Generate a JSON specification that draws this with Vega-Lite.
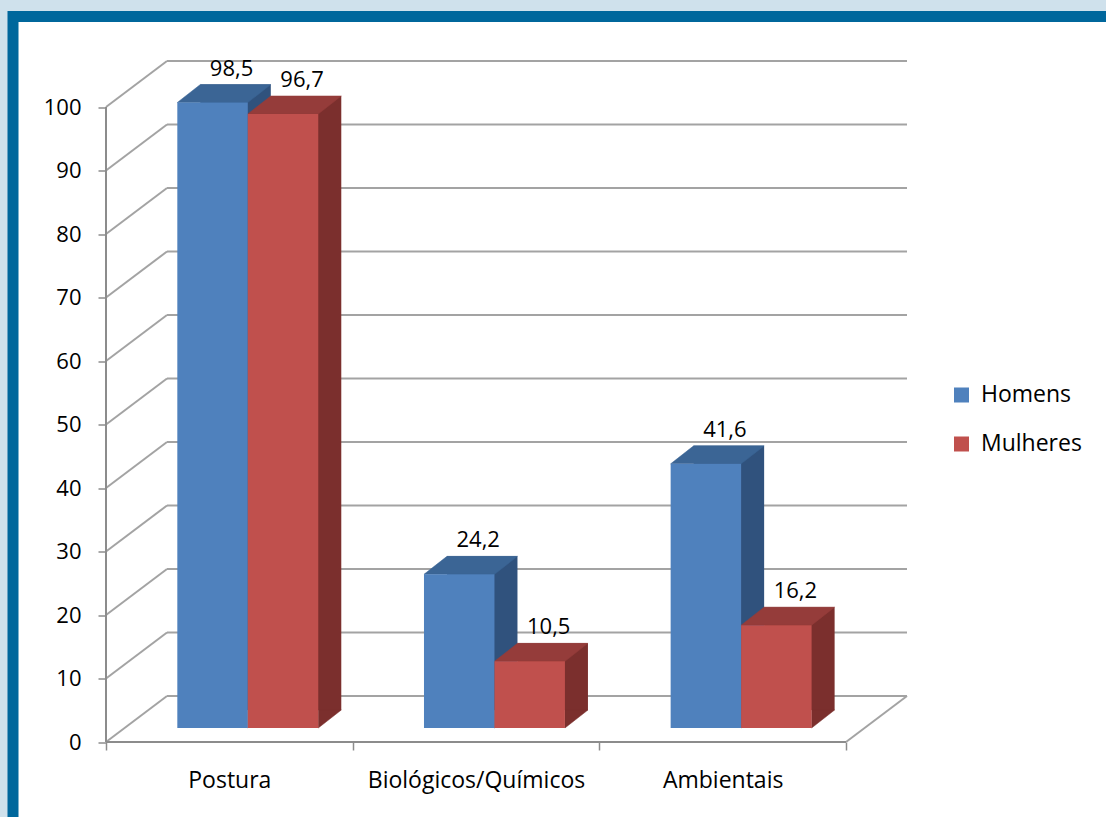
{
  "$schema": "https://vega.github.io/schema/vega-lite/v6.json",
  "autosize": {"type": "none"},
  "padding": {"left": 13, "top": 16.5, "right": 0, "bottom": 0},
  "width": 1107,
  "height": 813.5,
  "background": "#cfe1ec",
  "config": {
    "view": {"fill": "white", "stroke": "#00679c", "strokeWidth": 11},
    "locale": {"number": {"decimal": ",", "thousands": ".", "grouping": [3], "currency": ["R$", ""]}},
    "font": "Open Sans"
  },
  "data": {
    "values": [
      {"categoria": "Postura", "sexo": "Homens", "valor": 98.5},
      {"categoria": "Postura", "sexo": "Mulheres", "valor": 96.7},
      {"categoria": "Biológicos/Químicos", "sexo": "Homens", "valor": 24.2},
      {"categoria": "Biológicos/Químicos", "sexo": "Mulheres", "valor": 10.5},
      {"categoria": "Ambientais", "sexo": "Homens", "valor": 41.6},
      {"categoria": "Ambientais", "sexo": "Mulheres", "valor": 16.2}
    ]
  },
  "layer": [
    {
      "description": "back wall gridlines",
      "data": {"values": [{"v": 0}, {"v": 10}, {"v": 20}, {"v": 30}, {"v": 40}, {"v": 50}, {"v": 60}, {"v": 70}, {"v": 80}, {"v": 90}, {"v": 100}]},
      "mark": {"type": "rule", "color": "#a3a3a3", "strokeWidth": 2, "xOffset": 61, "x2Offset": 61, "yOffset": -46},
      "encoding": {
        "x": {"datum": "Postura", "type": "nominal", "bandPosition": 0},
        "x2": {"datum": "Ambientais", "bandPosition": 1},
        "y": {"field": "v", "type": "quantitative", "title": null}
      }
    },
    {
      "description": "side wall diagonals",
      "data": {"values": [{"v": 0}, {"v": 10}, {"v": 20}, {"v": 30}, {"v": 40}, {"v": 50}, {"v": 60}, {"v": 70}, {"v": 80}, {"v": 90}, {"v": 100}]},
      "mark": {"type": "rule", "color": "#a3a3a3", "strokeWidth": 2, "x2Offset": 61, "y2Offset": -46},
      "encoding": {
        "x": {"datum": "Postura", "type": "nominal", "bandPosition": 0},
        "x2": {"datum": "Postura", "bandPosition": 0},
        "y": {"field": "v", "type": "quantitative", "title": null},
        "y2": {"field": "v"}
      }
    },
    {
      "description": "floor right edge",
      "data": {"values": [{}]},
      "mark": {"type": "rule", "color": "#a3a3a3", "strokeWidth": 2, "x2Offset": 61, "y2Offset": -46},
      "encoding": {
        "x": {"datum": "Ambientais", "type": "nominal", "bandPosition": 1},
        "x2": {"datum": "Ambientais", "bandPosition": 1},
        "y": {"datum": 0, "type": "quantitative"},
        "y2": {"datum": 0}
      }
    },
    {
      "description": "floor front edge",
      "data": {"values": [{}]},
      "mark": {"type": "rule", "color": "#8c8c8c", "strokeWidth": 2},
      "encoding": {
        "x": {"datum": "Postura", "type": "nominal", "bandPosition": 0},
        "x2": {"datum": "Ambientais", "bandPosition": 1},
        "y": {"datum": 0, "type": "quantitative"}
      }
    },
    {
      "description": "value axis line",
      "data": {"values": [{}]},
      "mark": {"type": "rule", "color": "#8c8c8c", "strokeWidth": 2},
      "encoding": {
        "x": {"datum": "Postura", "type": "nominal", "bandPosition": 0},
        "y": {"datum": 0, "type": "quantitative"},
        "y2": {"datum": 100}
      }
    },
    {
      "description": "back faces, Homens (visible as the right side face)",
      "transform": [{"filter": "datum.sexo === 'Homens'"}],
      "mark": {"type": "bar", "width": 70.48, "xOffset": 6.23, "x2Offset": 6.23, "yOffset": -32, "y2Offset": -32, "color": "#30527d"},
      "encoding": {
        "x": {
          "field": "categoria", "type": "nominal",
          "sort": ["Postura", "Biológicos/Químicos", "Ambientais"],
          "scale": {"paddingInner": 0, "paddingOuter": 0.74392, "align": 0.25341},
          "axis": {"title": null, "offset": -88, "domain": false, "tickBand": "extent", "tickSize": 8, "tickColor": "#8c8c8c", "tickWidth": 1.5, "labelAngle": 0, "labelAlign": "center", "labelBaseline": "top", "labelLimit": 400, "labelFontSize": 23, "labelColor": "black", "labelPadding": 19, "grid": false}
        },
        "y": {
          "field": "valor", "type": "quantitative",
          "scale": {"domain": [-13.858, 114.252], "nice": false, "zero": false},
          "axis": {"title": null, "values": [0, 10, 20, 30, 40, 50, 60, 70, 80, 90, 100], "offset": -93, "domain": false, "grid": false, "tickSize": 8, "tickColor": "#8c8c8c", "tickWidth": 1.5, "labelFontSize": 22, "labelColor": "black", "labelPadding": 17}
        },
        "y2": {"datum": 0}
      }
    },
    {
      "description": "back faces, Mulheres (visible as the right side face)",
      "transform": [{"filter": "datum.sexo === 'Mulheres'"}],
      "mark": {"type": "bar", "width": 70.48, "xOffset": 76.71, "x2Offset": 76.71, "yOffset": -32, "y2Offset": -32, "color": "#7b2f2d"},
      "encoding": {
        "x": {"field": "categoria", "type": "nominal", "sort": ["Postura", "Biológicos/Químicos", "Ambientais"]},
        "y": {"field": "valor", "type": "quantitative", "title": null},
        "y2": {"datum": 0}
      }
    },
    {
      "description": "side faces, lower corner",
      "mark": {"type": "point", "shape": "M35.24,-18L35.24,0L58.24,-18Z", "size": 4, "filled": true, "opacity": 1, "yOffset": -14, "strokeWidth": 0.5},
      "encoding": {
        "x": {"field": "categoria", "type": "nominal", "sort": ["Postura", "Biológicos/Químicos", "Ambientais"]},
        "xOffset": {"field": "sexo", "type": "nominal", "scale": {"paddingInner": 0, "paddingOuter": 0.75, "align": 0.6746}},
        "y": {"datum": 0, "type": "quantitative"},
        "fill": {"condition": {"test": "datum.sexo === 'Homens'", "value": "#30527d"}, "value": "#7b2f2d"},
        "stroke": {"condition": {"test": "datum.sexo === 'Homens'", "value": "#30527d"}, "value": "#7b2f2d"}
      }
    },
    {
      "description": "top faces",
      "mark": {"type": "point", "shape": "M-35.24,0L35.24,0L58.24,-18L-12.24,-18Z", "size": 4, "filled": true, "opacity": 1, "yOffset": -14, "strokeWidth": 0.5},
      "encoding": {
        "x": {"field": "categoria", "type": "nominal", "sort": ["Postura", "Biológicos/Químicos", "Ambientais"]},
        "xOffset": {"field": "sexo", "type": "nominal"},
        "y": {"field": "valor", "type": "quantitative", "title": null},
        "fill": {"condition": {"test": "datum.sexo === 'Homens'", "value": "#3b6595"}, "value": "#953c3a"},
        "stroke": {"condition": {"test": "datum.sexo === 'Homens'", "value": "#3b6595"}, "value": "#953c3a"}
      }
    },
    {
      "description": "front faces",
      "mark": {"type": "bar", "yOffset": -14, "y2Offset": -14},
      "encoding": {
        "x": {"field": "categoria", "type": "nominal", "sort": ["Postura", "Biológicos/Químicos", "Ambientais"]},
        "xOffset": {"field": "sexo", "type": "nominal"},
        "y": {"field": "valor", "type": "quantitative", "title": null},
        "y2": {"datum": 0},
        "color": {
          "field": "sexo", "type": "nominal",
          "scale": {"domain": ["Homens", "Mulheres"], "range": ["#4f81bd", "#c0504d"]},
          "legend": {"title": null, "orient": "none", "legendX": 937, "legendY": 367, "padding": 0, "symbolType": "square", "symbolSize": 225, "symbolStrokeWidth": 0, "labelFontSize": 23, "labelColor": "black", "labelOffset": 8, "rowPadding": 25}
        }
      }
    },
    {
      "description": "value labels",
      "mark": {"type": "text", "dx": 19, "yOffset": -48, "baseline": "middle", "align": "center", "fontSize": 22, "color": "black"},
      "encoding": {
        "x": {"field": "categoria", "type": "nominal", "sort": ["Postura", "Biológicos/Químicos", "Ambientais"]},
        "xOffset": {"field": "sexo", "type": "nominal"},
        "y": {"field": "valor", "type": "quantitative", "title": null},
        "text": {"field": "valor", "type": "quantitative", "format": ".1f"}
      }
    }
  ]
}
